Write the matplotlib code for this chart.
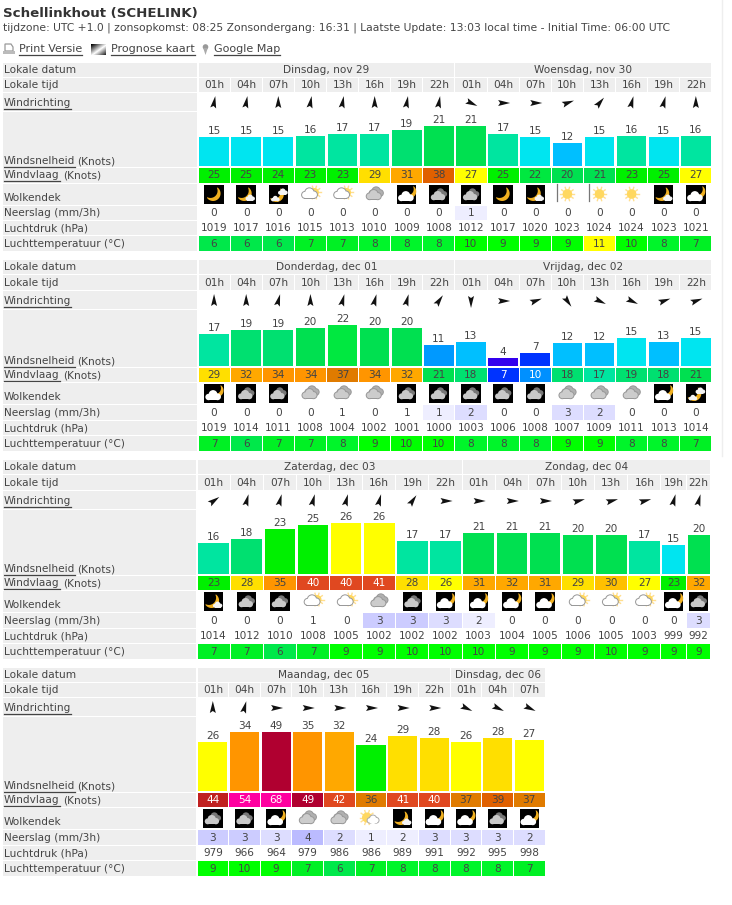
import matplotlib
matplotlib.use('Agg')
import matplotlib.pyplot as plt
import numpy as np
from matplotlib.patches import Rectangle, Circle, Polygon
from matplotlib.transforms import Affine2D

hours = ['01h', '04h', '07h', '10h', '13h', '16h', '19h', '22h']

days_1 = ['Dinsdag, nov 29', 'Woensdag, nov 30']
dir_1 = [10, 10, 0, 10, 10, 0, 10, 10, 115, 90, 90, 70, 40, 15, 15, 0]
wind_1 = [15, 15, 15, 16, 17, 17, 19, 21, 21, 17, 15, 12, 15, 16, 15, 16]
gust_1 = [25, 25, 24, 23, 23, 29, 31, 38, 27, 25, 22, 20, 21, 23, 25, 27]
sky_1 = ['m', 'mc', 'mcc', 'o', 'o', 'g', 'cm', 'gn', 'gn', 'm', 'mc', 'sb', 'sb', 's', 'mc', 'cm']
rain_1 = [0, 0, 0, 0, 0, 0, 0, 0, 1.0, 0, 0, 0, 0, 0, 0, 0]
press_1 = [1019, 1017, 1016, 1015, 1013, 1010, 1009, 1008, 1012, 1017, 1020, 1023, 1024, 1024, 1023, 1021]
temp_1 = [6, 6, 6, 7, 7, 8, 8, 8, 10, 9, 9, 9, 11, 10, 8, 7]

days_2 = ['Donderdag, dec 01', 'Vrijdag, dec 02']
dir_2 = [0, 0, 15, 0, 15, 15, 15, 35, 180, 90, 70, 145, 115, 115, 70, 70]
wind_2 = [17, 19, 19, 20, 22, 20, 20, 11, 13, 4, 7, 12, 12, 15, 13, 15]
gust_2 = [29, 32, 34, 34, 37, 34, 32, 21, 18, 7, 10, 18, 17, 19, 18, 21]
sky_2 = ['cm', 'gn', 'gn', 'g', 'g', 'g', 'gn', 'gn', 'gn', 'gn', 'gn', 'g', 'g', 'g', 'cm', 'mcc']
rain_2 = [0, 0, 0, 0, 0.6, 0, 0.6, 1.0, 2.0, 0, 0, 2.8, 2.0, 0, 0, 0]
press_2 = [1019, 1014, 1011, 1008, 1004, 1002, 1001, 1000, 1003, 1006, 1008, 1007, 1009, 1011, 1013, 1014]
temp_2 = [7, 6, 7, 7, 8, 9, 10, 10, 8, 8, 8, 9, 9, 8, 8, 7]

days_3 = ['Zaterdag, dec 03', 'Zondag, dec 04']
dir_3 = [55, 15, 15, 15, 15, 15, 35, 90, 90, 90, 90, 75, 75, 75, 15, 15]
wind_3 = [16, 18, 23, 25, 26, 26, 17, 17, 21, 21, 21, 20, 20, 17, 15, 20]
gust_3 = [23, 28, 35, 40, 40, 41, 28, 26, 31, 32, 31, 29, 30, 27, 23, 32]
sky_3 = ['mc', 'gn', 'gn', 'o', 'o', 'g', 'gn', 'cm', 'cm', 'cm', 'cm', 'o', 'o', 'o', 'cm', 'gn']
rain_3 = [0, 0, 0, 0.6, 0, 3.2, 3.2, 2.8, 1.6, 0, 0, 0, 0, 0, 0, 2.8]
press_3 = [1014, 1012, 1010, 1008, 1005, 1002, 1002, 1002, 1003, 1004, 1005, 1006, 1005, 1003, 999, 992]
temp_3 = [7, 7, 6, 7, 9, 9, 10, 10, 10, 9, 9, 9, 10, 9, 9, 9]

days_4 = ['Maandag, dec 05', 'Dinsdag, dec 06']
dir_4 = [0, 15, 90, 90, 90, 90, 90, 90, 115, 115, 115]
wind_4 = [26, 34, 49, 35, 32, 24, 29, 28, 26, 28, 27]
gust_4 = [44, 54, 68, 49, 42, 36, 41, 40, 37, 39, 37]
sky_4 = ['gn', 'gn', 'cm', 'g', 'g', 'sc', 'mc', 'cm', 'cm', 'gn', 'cm']
rain_4 = [3.2, 3.2, 2.8, 4.1, 2.0, 1.0, 1.6, 2.8, 2.8, 2.8, 2.4]
press_4 = [979, 966, 964, 979, 986, 986, 989, 991, 992, 995, 998]
temp_4 = [9, 10, 9, 7, 6, 7, 8, 8, 8, 8, 7]

# kleurschalen
knot_limits = [5, 8, 10.5, 11.5, 14, 15.5, 17.5, 19.5, 21.5, 22.5, 25.5, 27.5, 29.5, 30.5, 33, 35.5, 37.5, 39.5, 42.5, 46, 52]
knot_colors = ['#3300ee', '#0033ff', '#0090ff', '#0099ff', '#00bfff', '#00e5f0', '#00e5a0', '#00e070', '#00e050',
               '#00e840', '#00f000', '#ffff00', '#ffdf00', '#ffc000', '#ffa800', '#ff9500', '#e07b00', '#e06000',
               '#e04820', '#c02020', '#b00030', '#ff00a0']
temp_colors = {6: '#00e84a', 7: '#00f024', 8: '#00f52a', 9: '#00ff00', 10: '#00ff00', 11: '#ffff00'}

TXT = '#444444'
GRAY = '#eeeeee'
FS = 7.6


def knot_color(v):
    return knot_colors[np.searchsorted(knot_limits, v)]


def rain_color(v):
    if v < 0.9:
        return 'white'
    if v < 2:
        return '#eeeeff'
    if v < 3:
        return '#ddddff'
    if v < 4:
        return '#ccccff'
    return '#bbbbff'


fig = plt.figure(figsize=(7.32, 9.05), dpi=100)
ax = fig.add_axes([0, 0, 1, 1])
ax.set_xlim(0, 732)
ax.set_ylim(905, 0)
ax.axis('off')


def box(x0, y0, x1, y1, color, z=1, **kw):
    ax.add_patch(Rectangle((x0, y0), x1 - x0, y1 - y0, fc=color, ec='none', lw=0, zorder=z, **kw))


def label(x, y, s, color=TXT, size=FS, ha='center', va='center', **kw):
    return ax.text(x, y, s, color=color, fontsize=size, ha=ha, va=va, zorder=8, **kw)


def link(x, y, s, size=FS):
    # tekst met onderstreping
    t = label(x, y, s, ha='left', size=size)
    bb = t.get_window_extent(fig.canvas.get_renderer())
    ax.plot([x, x + bb.width], [y + 6, y + 6], color=TXT, lw=0.9, zorder=8)


def arrow(cx, cy, deg):
    shape = np.array([[0, -7], [3, 5], [0, 3], [-3, 5]])
    shape = Affine2D().rotate_deg(deg).transform(shape)
    ax.add_patch(Polygon(shape + [cx, cy], fc='#111111', ec='none', zorder=5))


def cloud(cx, cy, s, fc, ec=None, z=6):
    parts = [(-4.5, 2, 3.2), (0, -0.5, 4.4), (4.5, 1.8, 3.4)]
    if ec:
        for dx, dy, r in parts:
            ax.add_patch(Circle((cx + dx * s, cy + dy * s), r * s + 1, fc=ec, ec='none', zorder=z))
        box(cx - 5 * s - 1, cy + 1 * s, cx + 5 * s + 1, cy + 6.2 * s, ec, z)
    for dx, dy, r in parts:
        ax.add_patch(Circle((cx + dx * s, cy + dy * s), r * s, fc=fc, ec='none', zorder=z + 0.1))
    box(cx - 5 * s, cy + 1 * s, cx + 5 * s, cy + 5.2 * s, fc, z + 0.1)


def moon(cx, cy, r, z=6):
    # sikkel, bolle kant rechtsonder
    mid = 0.8
    a = np.linspace(-1.7, 1.7, 30) + mid
    outer = np.c_[cx + r * np.cos(a), cy + r * np.sin(a)]
    ix, iy = cx - 0.5 * r * np.cos(mid), cy - 0.5 * r * np.sin(mid)
    b = np.linspace(1.25, -1.25, 30) + mid
    inner = np.c_[ix + 0.95 * r * np.cos(b), iy + 0.95 * r * np.sin(b)]
    ax.add_patch(Polygon(np.r_[outer, inner], fc='#f0b020', ec='none', zorder=z))


def sun(cx, cy, r, z=5):
    for a in np.arange(0, 2 * np.pi, np.pi / 5):
        ax.plot([cx, cx + 1.45 * r * np.cos(a)], [cy, cy + 1.45 * r * np.sin(a)], color='#ffdf90', lw=1, zorder=z)
    ax.add_patch(Circle((cx, cy), r, fc='#ffd860', ec='none', zorder=z + 0.1))


def icon(cx, cy, kind):
    if kind in ('m', 'mc', 'mcc', 'cm', 'gn'):
        box(cx - 9.7, cy - 9.7, cx + 9.7, cy + 9.7, '#000000', 4)
    if kind == 'm':
        moon(cx - 1, cy - 1, 7.5)
    elif kind == 'mc':
        moon(cx - 2, cy - 1, 7.5)
        cloud(cx + 4, cy + 3, 0.6, '#f4f4f4')
    elif kind == 'mcc':
        moon(cx - 2, cy, 7.5)
        cloud(cx + 4.5, cy - 3, 0.62, '#f4f4f4')
        cloud(cx - 3, cy + 4, 0.55, '#f4f4f4')
    elif kind == 'cm':
        moon(cx + 3, cy - 3, 6.5)
        cloud(cx - 1, cy + 1.5, 1.0, '#ffffff')
    elif kind == 'gn':
        cloud(cx + 1.5, cy - 2, 0.85, '#777777')
        cloud(cx - 1, cy + 1, 0.92, '#c8c8c8')
    elif kind == 'g':
        cloud(cx + 1.5, cy - 3, 0.85, '#b0b0b0', '#999999')
        cloud(cx - 1, cy, 0.9, '#cccccc', '#999999', 6.5)
    elif kind in ('s', 'sb'):
        sun(cx, cy - 0.5, 4.8)
        if kind == 'sb':
            ax.plot([cx - 10.5, cx - 10.5], [cy - 10, cy + 6.5], color='#777777', lw=0.9, zorder=5)
    elif kind == 'o':
        sun(cx + 4, cy - 2, 4.5)
        cloud(cx - 1, cy - 1.5, 0.95, '#ffffff', '#999999')
    elif kind == 'sc':
        sun(cx - 4, cy - 1, 5)
        cloud(cx + 2, cy + 0.5, 0.7, '#ffffff', '#aaaaaa')


def table(rows, x0, widths, split, days, dirs, wind, gust, sky, rain, press, temp, scale, label_end):
    edges = x0 + np.r_[0, np.cumsum(widths)]
    d0, d1, t0, t1, w0, w1, b0, b1, g0, g1, c0, c1, r0, r1, p0, p1, a0, a1 = rows

    # labelkolom
    for top, bot in [(d0, d1), (t0, t1), (w0, w1), (b0, b1), (g0, g1), (c0, c1), (r0, r1), (p0, p1), (a0, a1)]:
        box(3, top, label_end, bot, GRAY)
    label(4, (d0 + d1) / 2, 'Lokale datum', ha='left')
    label(4, (t0 + t1) / 2, 'Lokale tijd', ha='left')
    link(4, (w0 + w1) / 2 + 1, 'Windrichting')
    link(4, b1 - 6, 'Windsnelheid')
    link(4, (g0 + g1) / 2, 'Windvlaag')
    label(77, b1 - 6, '(Knots)', ha='left')
    label(63, (g0 + g1) / 2, '(Knots)', ha='left')
    label(4, (c0 + c1) / 2 + 3, 'Wolkendek', ha='left')
    label(4, (r0 + r1) / 2, 'Neerslag (mm/3h)', ha='left')
    label(4, (p0 + p1) / 2, 'Luchtdruk (hPa)', ha='left')
    label(4, (a0 + a1) / 2, 'Luchttemperatuur (°C)', ha='left')

    # dagkoppen
    for (i0, i1), day in zip([(0, split), (split, len(wind))], days):
        box(edges[i0] + 0.5, d0, edges[i1] - 0.5, d1, GRAY)
        label((edges[i0] + edges[i1]) / 2, (d0 + d1) / 2, day)

    for i, w in enumerate(wind):
        x_l, x_r = edges[i], edges[i + 1]
        xc = (x_l + x_r) / 2
        box(x_l + 0.5, t0, x_r - 0.5, t1, GRAY)
        label(xc, (t0 + t1) / 2, hours[i % 8])
        arrow(xc, (w0 + w1) / 2 + 1, dirs[i])

        # balk is afgekapt boven 31 knopen
        h = min(w, 31) * scale
        ax.bar(xc, h, width=x_r - x_l - 2.5, bottom=b1 - 1 - h, color=knot_color(w), zorder=3)
        label(xc, b1 - 1 - h - 6, str(w))

        box(x_l + 0.5, g0, x_r - 0.5, g1, knot_color(gust[i]))
        label(xc, (g0 + g1) / 2, str(gust[i]), color='white' if gust[i] >= 40 or gust[i] <= 10 else TXT)

        icon(xc, (c0 + c1) / 2, sky[i])

        box(x_l + 0.5, r0, x_r - 0.5, r1, rain_color(rain[i]))
        label(xc, (r0 + r1) / 2, str(int(rain[i] + 0.5)))
        label(xc, (p0 + p1) / 2, str(press[i]))

        box(x_l + 0.5, a0, x_r - 0.5, a1, temp_colors[temp[i]])
        label(xc, (a0 + a1) / 2, str(temp[i]))


rows_1 = [63, 77, 78, 92, 93, 111, 112, 167, 168, 183, 184, 205, 206, 220, 221, 235, 236, 251]
rows_2 = [260, 274, 275, 290, 291, 309, 310, 367, 368, 382, 383, 404, 405, 420, 421, 435, 436, 451]
rows_3 = [460, 474, 475, 490, 491, 509, 510, 575, 576, 590, 591, 612, 613, 628, 629, 643, 644, 659]
rows_4 = [668, 682, 683, 697, 698, 716, 717, 792, 793, 807, 808, 829, 830, 845, 846, 860, 861, 876]

table(rows_1, 198, [32.12] * 16, 8, days_1, dir_1, wind_1, gust_1, sky_1, rain_1, press_1, temp_1, 1.9, 197)
table(rows_2, 198, [32.12] * 16, 8, days_2, dir_2, wind_2, gust_2, sky_2, rain_2, press_2, temp_2, 1.88, 197)
table(rows_3, 197, [33.14] * 14 + [25.5, 24.5], 8, days_3, dir_3, wind_3, gust_3, sky_3, rain_3, press_3, temp_3, 1.95, 196)
table(rows_4, 197, [31.64] * 11, 8, days_4, dir_4, wind_4, gust_4, sky_4, rain_4, press_4, temp_4, 1.9, 196)

# kop
label(3, 14, 'Schellinkhout (SCHELINK)', ha='left', size=9.6, fontweight='bold', color='#333333')
label(3, 28, 'tijdzone: UTC +1.0 | zonsopkomst: 08:25 Zonsondergang: 16:31 | Laatste Update: 13:03 local time - Initial Time: 06:00 UTC',
      ha='left', size=7.78)
link(19, 49.5, 'Print Versie', size=8)
link(111, 49.5, 'Prognose kaart', size=8)
link(214, 49.5, 'Google Map', size=8)

# kleine pictogrammen in de kop
ax.add_patch(Polygon([[5, 44], [11, 44], [13, 47], [13, 51], [5, 51]], fc='white', ec='#999999', lw=0.9, zorder=5))
box(3, 51, 15, 54, '#bbbbbb', 5)
gx, gy = np.meshgrid(np.linspace(0, 1, 16), np.linspace(0, 1, 11))
ax.imshow(np.abs(gx + gy - 1.1), extent=(91, 106, 55, 44), cmap='gray_r', aspect='auto', zorder=5)
ax.set_xlim(0, 732)
ax.set_ylim(905, 0)
ax.add_patch(Circle((205.5, 47), 2.8, fc='#999999', ec='none', zorder=5))
ax.add_patch(Polygon([[203.2, 48], [207.8, 48], [205.5, 55]], fc='#aaaaaa', ec='none', zorder=5))

# rand van de pagina
ax.plot([721.5, 721.5], [0, 456], color='#eeeeee', lw=1, zorder=0)

fig.savefig('out.png', dpi=100)
